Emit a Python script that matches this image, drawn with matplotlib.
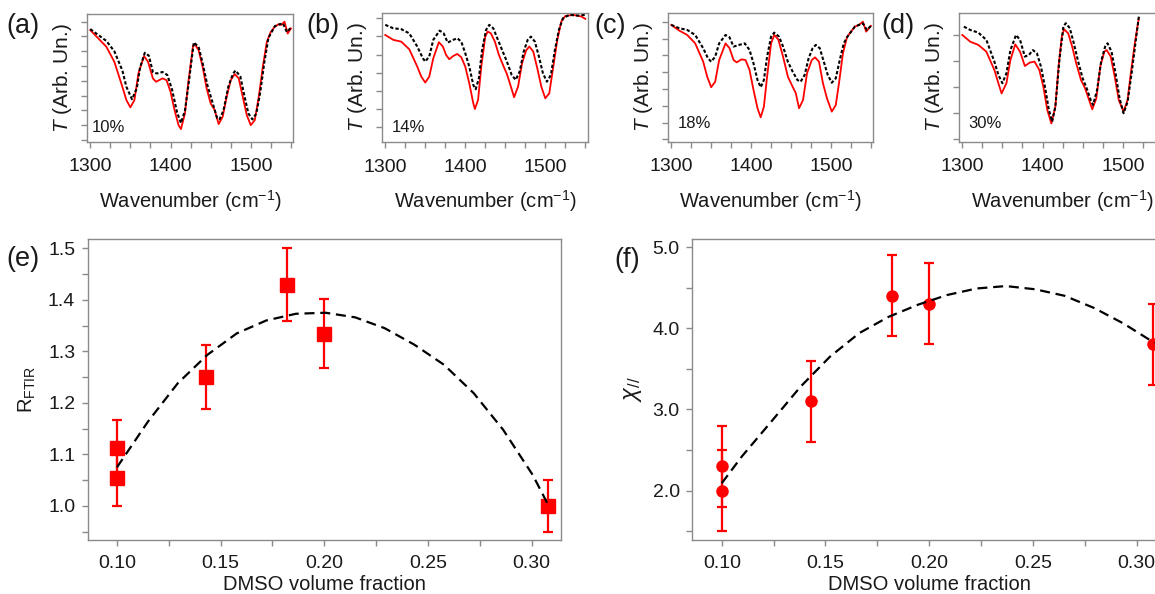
import matplotlib
matplotlib.use("Agg")
import matplotlib.pyplot as plt
from matplotlib.ticker import MultipleLocator, FormatStrFormatter, NullFormatter

plt.rcParams['font.family'] = ['Liberation Sans', 'DejaVu Sans']
plt.rcParams['mathtext.fontset'] = 'custom'
plt.rcParams['mathtext.rm'] = 'Liberation Sans'
plt.rcParams['mathtext.it'] = 'Liberation Sans:italic'
plt.rcParams['mathtext.bf'] = 'Liberation Sans:bold'

# ---------------- data: FTIR spectra (arbitrary units) ----------------
wn_a_red = [1300, 1310, 1320, 1330, 1340, 1345, 1350, 1355, 1360, 1367, 1372, 1378, 1382, 1390, 1395, 1400,
            1405, 1410, 1413, 1418, 1422, 1428, 1430, 1435, 1440, 1445, 1450, 1455, 1460, 1465, 1470, 1475,
            1480, 1485, 1490, 1495, 1500, 1505, 1510, 1515, 1520, 1525, 1530, 1535, 1538, 1542, 1546, 1550]
t_a_red = [7.43, 6.87, 6.31, 5.29, 3.60, 2.70, 2.21, 2.70, 4.50, 5.68, 5.29, 4.17, 3.94, 4.17, 4.05, 3.27,
           2.03, 1.01, 0.74, 1.80, 3.83, 6.35, 6.49, 6.08, 4.95, 3.49, 2.48, 2.03, 1.08, 1.58, 2.93, 4.05,
           4.46, 4.17, 2.93, 1.69, 1.01, 1.35, 2.93, 4.95, 6.64, 7.32, 7.66, 7.84, 7.78, 8.00, 7.20, 7.55]
wn_a_ref = [1300, 1310, 1320, 1330, 1340, 1345, 1352, 1358, 1362, 1368, 1373, 1378, 1383, 1390, 1396, 1402,
            1408, 1413, 1418, 1423, 1429, 1435, 1440, 1446, 1452, 1458, 1461, 1466, 1472, 1478, 1481, 1487,
            1492, 1497, 1502, 1507, 1512, 1517, 1522, 1530, 1540, 1545, 1550]
t_a_ref = [7.50, 7.10, 6.70, 6.00, 4.70, 3.60, 2.76, 3.50, 4.90, 5.90, 5.70, 4.60, 4.50, 4.60, 4.40, 3.40,
           1.90, 1.15, 2.00, 4.00, 6.60, 6.30, 5.20, 3.70, 2.60, 1.50, 1.40, 2.00, 3.60, 4.50, 4.70, 4.30,
           3.00, 1.80, 1.40, 1.80, 3.30, 5.30, 6.90, 7.70, 7.90, 7.30, 7.60]

wn_b_red = [1300, 1310, 1320, 1330, 1340, 1345, 1350, 1355, 1360, 1367, 1372, 1376, 1380, 1385, 1390, 1395,
            1400, 1405, 1410, 1412, 1416, 1420, 1425, 1428, 1432, 1437, 1442, 1448, 1452, 1457, 1461, 1466,
            1471, 1476, 1480, 1485, 1490, 1495, 1500, 1505, 1510, 1515, 1520, 1525, 1535, 1545, 1550]
t_b_red = [5.08, 4.81, 4.71, 4.29, 3.33, 2.78, 2.45, 2.78, 3.79, 4.68, 4.44, 3.98, 3.74, 3.92, 4.03, 3.85,
           3.33, 2.41, 1.31, 0.99, 1.49, 3.33, 4.99, 5.27, 5.17, 4.71, 3.98, 3.33, 2.93, 2.23, 1.64, 2.23,
           3.52, 4.22, 4.44, 4.16, 3.24, 2.23, 1.58, 1.86, 3.33, 4.81, 5.82, 6.13, 6.19, 6.10, 5.97]
wn_b_ref = [1300, 1310, 1320, 1330, 1340, 1347, 1350, 1355, 1360, 1368, 1373, 1378, 1385, 1390, 1395, 1400,
            1405, 1410, 1413, 1417, 1421, 1426, 1430, 1435, 1440, 1446, 1452, 1458, 1463, 1468, 1473, 1478,
            1482, 1487, 1492, 1497, 1502, 1507, 1512, 1517, 1522, 1530, 1540, 1550]
t_b_ref = [5.64, 5.45, 5.40, 5.17, 4.44, 3.79, 3.61, 3.89, 4.81, 5.32, 5.17, 4.66, 4.81, 4.90, 4.71, 4.07,
           3.33, 2.32, 2.08, 2.69, 4.25, 5.36, 5.64, 5.45, 4.90, 4.25, 3.61, 2.87, 2.60, 3.06, 4.16, 4.81,
           4.99, 4.71, 3.89, 2.97, 2.50, 2.87, 4.25, 5.36, 6.00, 6.19, 6.15, 6.19]

wn_c_red = [1300, 1310, 1320, 1330, 1340, 1345, 1350, 1355, 1360, 1368, 1373, 1378, 1382, 1388, 1393, 1398,
            1403, 1408, 1412, 1416, 1420, 1425, 1429, 1434, 1440, 1446, 1452, 1456, 1460, 1465, 1470, 1476,
            1480, 1485, 1490, 1495, 1501, 1506, 1510, 1515, 1520, 1525, 1530, 1535, 1540, 1544, 1550]
t_c_red = [6.81, 6.47, 6.21, 5.71, 4.62, 3.73, 3.10, 3.43, 4.72, 5.71, 5.42, 4.72, 4.58, 4.76, 4.72, 4.13,
           2.94, 1.85, 1.31, 1.94, 3.73, 5.71, 6.21, 5.95, 4.92, 3.73, 3.13, 2.74, 1.85, 2.34, 3.93, 4.72,
           4.88, 4.62, 3.33, 2.44, 1.65, 2.04, 3.33, 5.12, 6.07, 6.41, 6.71, 6.81, 7.00, 6.41, 6.75]
wn_c_ref = [1300, 1310, 1320, 1330, 1340, 1346, 1350, 1355, 1360, 1368, 1373, 1378, 1385, 1392, 1398, 1403,
            1408, 1412, 1416, 1420, 1425, 1429, 1435, 1440, 1446, 1452, 1458, 1462, 1467, 1472, 1477, 1481,
            1486, 1491, 1496, 1501, 1506, 1511, 1516, 1520, 1530, 1540, 1545, 1550]
t_c_ref = [6.81, 6.61, 6.51, 6.21, 5.42, 4.82, 4.62, 4.92, 5.71, 6.21, 6.07, 5.52, 5.62, 5.71, 5.32, 4.52,
           3.53, 3.10, 3.53, 4.92, 6.11, 6.35, 6.11, 5.52, 4.62, 4.03, 3.53, 3.43, 3.83, 4.82, 5.42, 5.62,
           5.42, 4.62, 3.83, 3.37, 3.63, 4.72, 5.71, 6.07, 6.71, 6.90, 6.51, 6.75]

wn_d_red = [1300, 1310, 1320, 1330, 1340, 1345, 1349, 1355, 1360, 1366, 1372, 1378, 1384, 1390, 1396, 1401,
            1406, 1411, 1416, 1420, 1424, 1427, 1432, 1437, 1442, 1448, 1453, 1458, 1462, 1467, 1472, 1477,
            1480, 1485, 1490, 1495, 1501, 1506, 1510, 1515, 1520]
t_d_red = [4.00, 3.74, 3.62, 3.36, 2.66, 2.15, 1.76, 2.15, 3.04, 3.64, 3.36, 2.81, 2.94, 2.98, 2.66, 2.02,
           1.12, 0.61, 1.25, 2.79, 3.94, 4.22, 4.06, 3.55, 2.91, 2.27, 1.96, 1.51, 1.15, 1.57, 2.79, 3.36,
           3.42, 3.17, 2.40, 1.51, 1.06, 1.51, 2.53, 3.68, 4.64]
wn_d_ref = [1302, 1310, 1320, 1330, 1340, 1345, 1350, 1355, 1360, 1367, 1372, 1378, 1383, 1388, 1393, 1398,
            1403, 1408, 1412, 1416, 1421, 1426, 1429, 1434, 1439, 1445, 1450, 1455, 1460, 1463, 1468, 1473,
            1478, 1481, 1486, 1491, 1496, 1501, 1506, 1511, 1516, 1520]
t_d_ref = [4.32, 4.19, 4.09, 3.81, 2.98, 2.47, 2.15, 2.53, 3.42, 4.00, 3.81, 3.17, 3.23, 3.42, 3.30, 2.79,
           2.02, 1.12, 0.68, 1.25, 3.04, 4.32, 4.45, 4.26, 3.68, 2.91, 2.34, 1.96, 1.51, 1.32, 1.89, 2.98,
           3.55, 3.68, 3.36, 2.53, 1.57, 1.00, 1.44, 2.53, 3.74, 4.70]

labels_pct = ['10%', '14%', '18%', '30%']

# ---------------- data: (e) R_FTIR and (f) chi ----------------
dmso_e = [0.100, 0.100, 0.143, 0.182, 0.200, 0.308]
r_ftir = [1.112, 1.054, 1.251, 1.429, 1.334, 1.000]
r_err = [0.055, 0.054, 0.062, 0.071, 0.067, 0.050]
fit_e_x = [0.100, 0.115, 0.1293, 0.1435, 0.1578, 0.172, 0.1863, 0.2006, 0.2149, 0.2291, 0.2434, 0.2577,
           0.272, 0.2862, 0.3005, 0.3082]
fit_e_y = [1.075, 1.164, 1.238, 1.293, 1.335, 1.360, 1.373, 1.375, 1.366, 1.345, 1.313, 1.274,
           1.219, 1.148, 1.060, 1.000]

dmso_f = [0.100, 0.100, 0.143, 0.182, 0.200, 0.308]
chi = [2.3, 2.0, 3.1, 4.4, 4.3, 3.8]
chi_err = [0.5, 0.5, 0.5, 0.5, 0.5, 0.5]
fit_f_x = [0.100, 0.1097, 0.1239, 0.138, 0.1522, 0.1663, 0.1804, 0.1946, 0.2087, 0.2229, 0.237, 0.2512,
           0.2653, 0.2795, 0.2936, 0.3086]
fit_f_y = [2.09, 2.42, 2.85, 3.28, 3.65, 3.94, 4.14, 4.29, 4.41, 4.49, 4.52, 4.48,
           4.40, 4.25, 4.06, 3.82]

# ---------------- figure ----------------
W, H = 1155, 594
fig = plt.figure(figsize=(W / 100, H / 100), dpi=100)
SPINE = '#8a8a8a'
TXT = '#1a1a1a'
RED = '#ff0000'


def px_axes(left, top, width, height):
    return fig.add_axes([left / W, 1 - (top + height) / H, width / W, height / H])


def style(ax):
    for s in ax.spines.values():
        s.set_color(SPINE)
        s.set_linewidth(1.0)
    ax.tick_params(which='both', direction='out', color=SPINE, labelcolor=TXT, width=1.0)
    ax.tick_params(which='major', length=4)
    ax.tick_params(which='minor', length=4)


top_specs = [
    (87.3, 14.0, 206.0, 127.7, (wn_a_red, t_a_red, wn_a_ref, t_a_ref), (-0.11, 8.52), 9, (0.021, 0.078)),
    (382.3, 12.7, 205.4, 129.6, (wn_b_red, t_b_red, wn_b_ref, t_b_ref), (-0.85, 6.31), 7, (0.046, 0.082)),
    (668.3, 13.3, 205.0, 128.4, (wn_c_red, t_c_red, wn_c_ref, t_c_ref), (-0.14, 7.50), 8, (0.044, 0.109)),
    (959.3, 13.3, 206.0, 128.4, (wn_d_red, t_d_red, wn_d_ref, t_d_ref), (-0.09, 4.83), 5, (0.044, 0.104)),
]
panel_top_x = [6, 306, 594, 881]
panel_names = ['(a)', '(b)', '(c)', '(d)']

for i, (l, t, w, h, sp, yl, nt, lp) in enumerate(top_specs):
    ax = px_axes(l, t, w, h)
    style(ax)
    wr, tr, wk, tk = sp
    ax.plot(wr, tr, color=RED, lw=1.3, zorder=2)
    ax.plot(wk, tk, color='black', lw=1.5, dashes=(1.6, 1.0), zorder=3)
    ax.set_xlim(1296.3, 1553)
    ax.set_ylim(*yl)
    ax.xaxis.set_major_locator(MultipleLocator(100))
    ax.xaxis.set_minor_locator(MultipleLocator(25))
    ax.set_yticks(list(range(nt)))
    ax.yaxis.set_major_formatter(NullFormatter())
    ax.tick_params(axis='x', which='major', labelsize=14, pad=8)
    ax.tick_params(axis='y', which='major', length=4)
    ax.set_xlabel(r'Wavenumber (cm$^{\mathregular{-1}}$)', fontsize=14.5, color=TXT, labelpad=9)
    ax.set_ylabel(r'$T$ (Arb. Un.)', fontsize=15, color=TXT, labelpad=2)
    ax.text(lp[0], lp[1], labels_pct[i], transform=ax.transAxes, fontsize=12, color=TXT,
            ha='left', va='baseline')
    fig.text(panel_top_x[i] / W, 1 - 33.3 / H, panel_names[i], fontsize=19.5, color=TXT,
             ha='left', va='baseline')

# (e)
axe = px_axes(87.7, 239.3, 473.5, 300.7)
style(axe)
axe.errorbar(dmso_e, r_ftir, yerr=r_err, fmt='s', color=RED, ms=9.5, mec=RED, mfc=RED,
             elinewidth=1.6, capsize=3.6, capthick=1.6, zorder=2)
axe.plot(fit_e_x, fit_e_y, color='black', lw=1.6, dashes=(4.5, 2.6), zorder=3)
axe.set_xlim(0.0859, 0.3142)
axe.set_ylim(0.934, 1.5175)
axe.xaxis.set_major_locator(MultipleLocator(0.05))
axe.xaxis.set_minor_locator(MultipleLocator(0.025))
axe.yaxis.set_major_locator(MultipleLocator(0.1))
axe.yaxis.set_minor_locator(MultipleLocator(0.05))
axe.xaxis.set_major_formatter(FormatStrFormatter('%.2f'))
axe.yaxis.set_major_formatter(FormatStrFormatter('%.1f'))
axe.tick_params(labelsize=14)
axe.tick_params(axis='x', pad=7)
axe.tick_params(axis='y', pad=5)
axe.set_xlabel('DMSO volume fraction', fontsize=14.5, color=TXT, labelpad=2)
axe.set_ylabel(r'R$_{\mathregular{FTIR}}$', fontsize=14.5, color=TXT, labelpad=7)
fig.text(6 / W, 1 - 266 / H, '(e)', fontsize=19.5, color=TXT, ha='left', va='baseline')

# (f)
axf = px_axes(692.3, 239.0, 473.5, 301.0)
style(axf)
axf.errorbar(dmso_f, chi, yerr=chi_err, fmt='o', color=RED, ms=8, mec=RED, mfc=RED,
             elinewidth=1.6, capsize=3.6, capthick=1.6, zorder=2)
axf.plot(fit_f_x, fit_f_y, color='black', lw=1.6, dashes=(4.5, 2.6), zorder=3)
axf.set_xlim(0.0858, 0.3141)
axf.set_ylim(1.39, 5.10)
axf.xaxis.set_major_locator(MultipleLocator(0.05))
axf.xaxis.set_minor_locator(MultipleLocator(0.025))
axf.yaxis.set_major_locator(MultipleLocator(1.0))
axf.yaxis.set_minor_locator(MultipleLocator(0.5))
axf.xaxis.set_major_formatter(FormatStrFormatter('%.2f'))
axf.yaxis.set_major_formatter(FormatStrFormatter('%.1f'))
axf.tick_params(labelsize=14)
axf.tick_params(axis='x', pad=7)
axf.tick_params(axis='y', pad=5)
axf.set_xlabel('DMSO volume fraction', fontsize=14.5, color=TXT, labelpad=2)
axf.set_ylabel(r'$\chi_{//}$', fontsize=17, color=TXT, labelpad=6)
fig.text(614 / W, 1 - 266.7 / H, '(f)', fontsize=19.5, color=TXT, ha='left', va='baseline')

fig.savefig('out.png', dpi=100)
